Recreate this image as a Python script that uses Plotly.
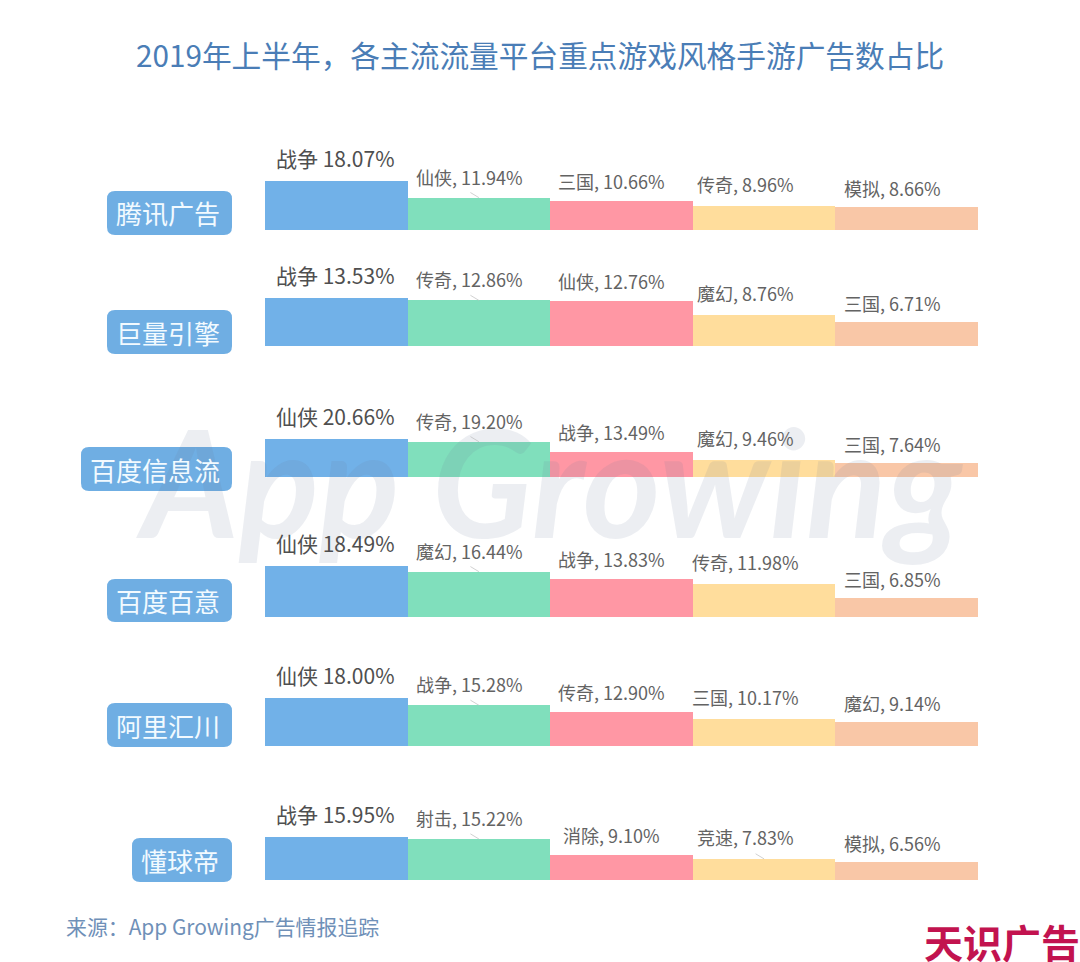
import plotly.graph_objects as go

W, H = 1080, 962
CJK = "Noto Sans CJK SC"

# data
platforms = ["腾讯广告", "巨量引擎", "百度信息流", "百度百意", "阿里汇川", "懂球帝"]
tencent_styles = ["战争", "仙侠", "三国", "传奇", "模拟"]
tencent_values = [18.07, 11.94, 10.66, 8.96, 8.66]
juliang_styles = ["战争", "传奇", "仙侠", "魔幻", "三国"]
juliang_values = [13.53, 12.86, 12.76, 8.76, 6.71]
baidu_feed_styles = ["仙侠", "传奇", "战争", "魔幻", "三国"]
baidu_feed_values = [20.66, 19.20, 13.49, 9.46, 7.64]
baidu_baiyi_styles = ["仙侠", "魔幻", "战争", "传奇", "三国"]
baidu_baiyi_values = [18.49, 16.44, 13.83, 11.98, 6.85]
ali_styles = ["仙侠", "战争", "传奇", "三国", "魔幻"]
ali_values = [18.00, 15.28, 12.90, 10.17, 9.14]
dongqiudi_styles = ["战争", "射击", "消除", "竞速", "模拟"]
dongqiudi_values = [15.95, 15.22, 9.10, 7.83, 6.56]

all_styles = [tencent_styles, juliang_styles, baidu_feed_styles,
              baidu_baiyi_styles, ali_styles, dongqiudi_styles]
all_values = [tencent_values, juliang_values, baidu_feed_values,
              baidu_baiyi_values, ali_values, dongqiudi_values]

# layout in picture pixels
bar_colors = ["#71B1E8", "#80DFBC", "#FF97A4", "#FFDD9C", "#F9C7A7"]
plot_left, plot_right = 265, 978
row_base = [230, 346, 477, 617, 746, 880]
row_top = [181, 298, 439, 566, 698, 837]
badge_left = [107, 107, 81, 107, 107, 132]
badge_top = [191, 310, 447, 579, 703, 838]
badge_bottom = [235, 354, 491, 622, 747, 882]
badge_right = 232
label_xshift = [-1, -9, -10, -19, -14]
label_gap = [23, 21, 20, 22, 19]


def px_x(x):
    return x / W


def px_y(y):
    return 1 - y / H


def rounded_path(x0, y0, x1, y1, r=8):
    # rounded box in paper coordinates
    return (f"M {px_x(x0 + r)} {px_y(y0)} L {px_x(x1 - r)} {px_y(y0)} "
            f"Q {px_x(x1)} {px_y(y0)} {px_x(x1)} {px_y(y0 + r)} "
            f"L {px_x(x1)} {px_y(y1 - r)} Q {px_x(x1)} {px_y(y1)} {px_x(x1 - r)} {px_y(y1)} "
            f"L {px_x(x0 + r)} {px_y(y1)} Q {px_x(x0)} {px_y(y1)} {px_x(x0)} {px_y(y1 - r)} "
            f"L {px_x(x0)} {px_y(y0 + r)} Q {px_x(x0)} {px_y(y0)} {px_x(x0 + r)} {px_y(y0)} Z")


fig = go.Figure()
annotations = []
shapes = []

# pale watermark goes first so labels sit on top of it
annotations.append(dict(text="<b><i>App Growing</i></b>", xref="paper", yref="paper",
                        x=px_x(550), y=px_y(480), showarrow=False, xanchor="center", yanchor="middle",
                        font=dict(family="Lato", size=149, color="rgba(105,125,155,0.13)")))

for i, platform in enumerate(platforms):
    n = i + 1
    styles = all_styles[i]
    values = all_values[i]
    fig.add_trace(go.Bar(x=styles, y=values, xaxis=f"x{n}", yaxis=f"y{n}",
                         marker=dict(color=bar_colors, line=dict(width=0)),
                         width=1, showlegend=False, hoverinfo="x+y"))
    fig.update_layout(**{
        f"xaxis{n}": dict(domain=[px_x(plot_left), px_x(plot_right)], range=[-0.5, 4.5], type="category",
                          anchor=f"y{n}", visible=False, fixedrange=True),
        f"yaxis{n}": dict(domain=[px_y(row_base[i]), px_y(row_top[i])], range=[0, max(values)],
                          anchor=f"x{n}", visible=False, fixedrange=True),
    })

    shapes.append(dict(type="path", xref="paper", yref="paper", fillcolor="#6FAEE3", line=dict(width=0),
                       path=rounded_path(badge_left[i], badge_top[i], badge_right, badge_bottom[i])))
    annotations.append(dict(text=platform, xref="paper", yref="paper", showarrow=False,
                            x=px_x((badge_left[i] + badge_right) / 2 - 2), y=px_y((badge_top[i] + badge_bottom[i]) / 2),
                            xanchor="center", yanchor="middle",
                            font=dict(family=CJK, size=26, color="#F2FAFF")))

    for j, (style, value) in enumerate(zip(styles, values)):
        if j == 0:
            text, size, color = f"{style} {value:.2f}%", 21, "#4F4F4F"
        else:
            text, size, color = f"{style}, {value:.2f}%", 18, "#636363"
        annotations.append(dict(text=text, xref=f"x{n}", yref=f"y{n}", x=style, y=value,
                                showarrow=False, xanchor="center", yanchor="middle",
                                xshift=label_xshift[j], yshift=label_gap[j],
                                font=dict(family=CJK, size=size, color=color)))
        # small leader ticks under the labels that have one
        if j == 1 or (i == 5 and j == 3):
            annotations.append(dict(text="", xref=f"x{n}", yref=f"y{n}", x=style, y=value,
                                    showarrow=True, arrowhead=0, arrowwidth=0.7, arrowcolor="#BDBDBD",
                                    ax=-10, ay=-6, axref="pixel", ayref="pixel"))

annotations.append(dict(text="2019年上半年，各主流流量平台重点游戏风格手游广告数占比", xref="paper", yref="paper",
                        x=px_x(540), y=px_y(54), showarrow=False, xanchor="center", yanchor="middle",
                        font=dict(family=CJK, size=29.7, color="#4A7DB6")))
annotations.append(dict(text="来源：App Growing广告情报追踪", xref="paper", yref="paper",
                        x=px_x(64), y=px_y(926), showarrow=False, xanchor="left", yanchor="middle",
                        font=dict(family=CJK, size=20.9, color="#6F90B8")))
annotations.append(dict(text="<b>天识广告</b>", xref="paper", yref="paper",
                        x=px_x(1002), y=px_y(941), showarrow=False, xanchor="center", yanchor="middle",
                        font=dict(family=CJK, size=39, color="#C2134F")))

fig.update_layout(width=W, height=H, margin=dict(l=0, r=0, t=0, b=0), paper_bgcolor="white",
                  plot_bgcolor="rgba(0,0,0,0)", bargap=0, showlegend=False,
                  shapes=shapes, annotations=annotations)

fig.write_html("out.html", config=dict(displayModeBar=False),
               post_script="document.body.style.margin='0';document.body.style.overflow='hidden';")
